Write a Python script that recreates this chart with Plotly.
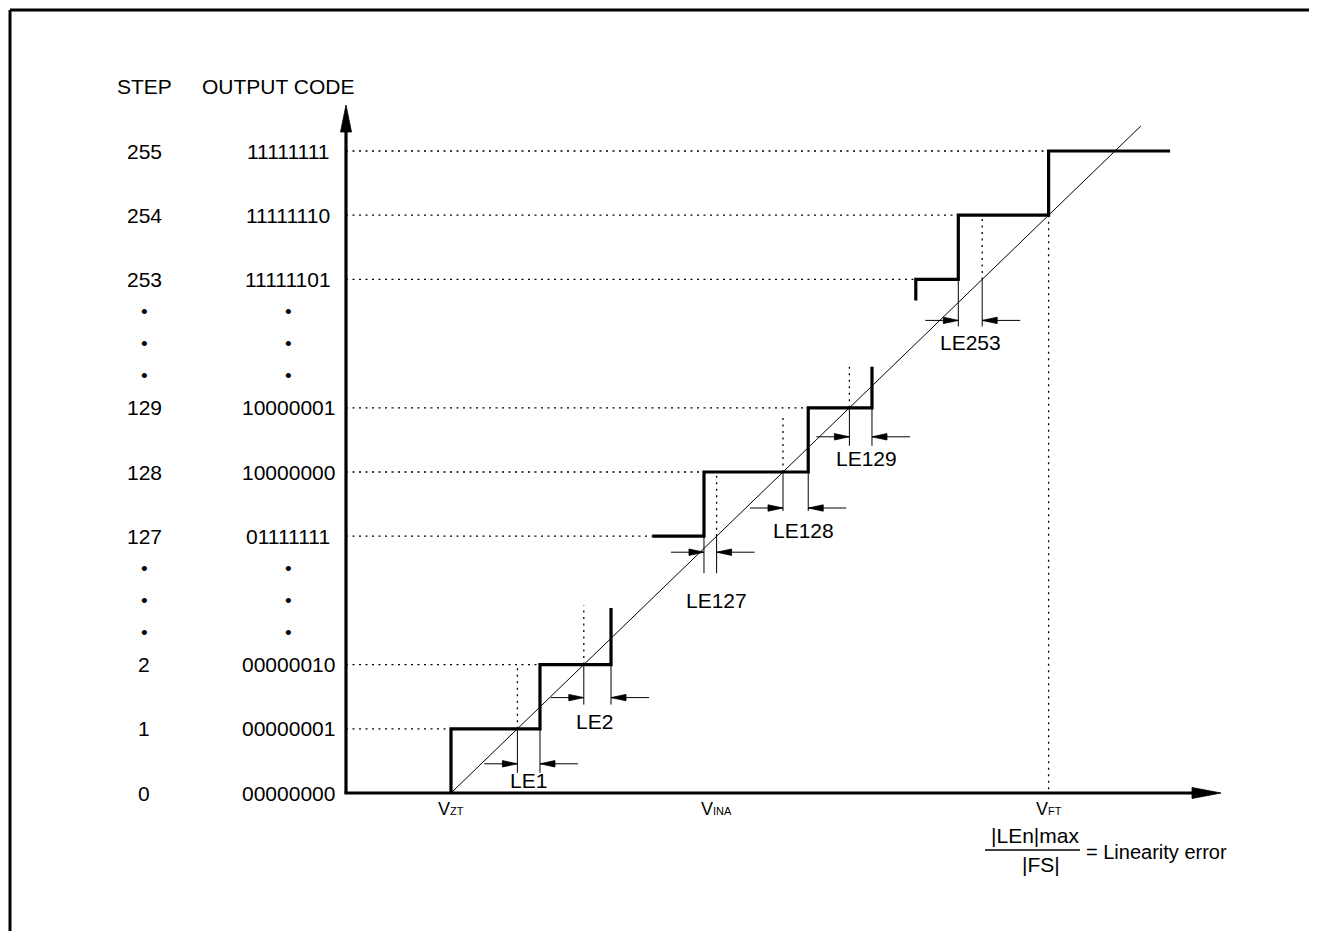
import plotly.graph_objects as go

# ---------------- data ----------------
step_labels = ["0", "1", "2", "127", "128", "129", "253", "254", "255"]
code_labels = ["00000000", "00000001", "00000010", "01111111", "10000000",
               "10000001", "11111101", "11111110", "11111111"]
level_rows = [0, 1, 2, 4, 5, 6, 8, 9, 10]          # vertical slot of each listed code
ellipsis_rows = [2.5, 3, 3.5, 6.5, 7, 7.5]

# actual conversion characteristic (input in LSB measured from V_ZT)
low_start = (0.00, 0.00)
low_trans = [0.00, 1.34, 2.41]
low_rows = [1, 2, 2.88]
mid_start = (3.03, 4.00)
mid_trans = [3.81, 5.38, 6.34]
mid_rows = [5, 6, 6.64]
high_start = (7.00, 7.67)
high_trans = [7.00, 7.64, 9.00]
high_rows = [8, 9, 10]
high_end = 10.83
ideal_end = 10.39

# ideal-crossing reference marks (x = row) and how far each dotted mark reaches
ideal_rows = [1, 2, 4, 5, 6, 8, 9]
ideal_tops = [2, 2.92, 5, 5.84, 6.67, 9, 0]

# linearity-error markers
le_names = ["LE1", "LE2", "LE127", "LE128", "LE129", "LE253"]
le_rows = [1, 2, 4, 5, 6, 8]
le_actual = [1.34, 2.41, 3.81, 5.38, 6.34, 7.64]

# ---------------- layout helpers (pixel geometry) ----------------
OFF = 8                      # page body margin
W, H = 1309, 923
X0_PX, UX = 451.0, 66.4      # page x of V_ZT, px per LSB
Y0_PX, UY = 793.0, 64.2      # page y of code 0, px per row
AXIS_X = (346 - X0_PX) / UX

def px_x(px):
    return (px - X0_PX) / UX

def px_y(py):
    return (Y0_PX - py) / UY

le_arrow_dy = [35, 33, 16, 36, 29, 41]
le_drop = [44, 40, 37, 39, 38, 47]
le_label_dy = [52, 57, 64, 58, 51, 63]
le_label_dx = [0, -3, 6, 8, 6, 0]

FONT = "Liberation Sans, Arial, Helvetica, sans-serif"
FS = 21
BLACK = "#000000"

fig = go.Figure()

def add_line(xs, ys, width=1.0, dash=None, color=BLACK):
    fig.add_trace(go.Scatter(x=xs, y=ys, mode="lines",
                             line=dict(color=color, width=width, dash=dash),
                             hoverinfo="skip", showlegend=False))

def staircase(start, trans, rows):
    xs, ys = [start[0]], [start[1]]
    cur = start[1]
    for t, r in zip(trans, rows):
        xs += [t, t]
        ys += [cur, r]
        cur = r
    return xs, ys

tri_x, tri_y = [], []

def arrowhead(tip_x, tip_y, direction, length_px, half_px):
    if direction == "r":
        pts = [(tip_x, tip_y), (tip_x - length_px / UX, tip_y + half_px / UY),
               (tip_x - length_px / UX, tip_y - half_px / UY)]
    elif direction == "l":
        pts = [(tip_x, tip_y), (tip_x + length_px / UX, tip_y + half_px / UY),
               (tip_x + length_px / UX, tip_y - half_px / UY)]
    else:
        pts = [(tip_x, tip_y), (tip_x - half_px / UX, tip_y - length_px / UY),
               (tip_x + half_px / UX, tip_y - length_px / UY)]
    for px_, py_ in pts + [pts[0]]:
        tri_x.append(px_)
        tri_y.append(py_)
    tri_x.append(None)
    tri_y.append(None)

# staircase segments
segs = [staircase(low_start, low_trans, low_rows),
        staircase(mid_start, mid_trans, mid_rows),
        staircase(high_start, high_trans, high_rows)]
segs[2][0].append(high_end)
segs[2][1].append(high_rows[-1])

# dotted horizontal guides: from y axis to where the staircase first reaches the level
hx, hy = [], []
for r in level_rows[1:]:
    start_x = None
    for xs, ys in segs:
        for x, y in zip(xs, ys):
            if abs(y - r) < 1e-9:
                start_x = x
                break
        if start_x is not None:
            break
    hx += [AXIS_X, start_x, None]
    hy += [r, r, None]
add_line(hx, hy, width=1.3, dash="2px,4.5px")

# dotted verticals at ideal crossings
vx, vy = [], []
for r, top in zip(ideal_rows, ideal_tops):
    vx += [r, r, None]
    vy += [r, top, None]
add_line(vx, vy, width=1.3, dash="2px,4.5px")

# ideal straight line
add_line([0, ideal_end], [0, ideal_end], width=1.0)

# staircase
for xs, ys in segs:
    add_line(xs, ys, width=3.2)

# LE markers
mx, my = [], []
for i, (name, r, act) in enumerate(zip(le_names, le_rows, le_actual)):
    lo, hi = min(r, act), max(r, act)
    yb = r - le_drop[i] / UY
    mx += [lo, lo, None, hi, hi, None]
    my += [r, yb, None, r, yb, None]
    ya = r - le_arrow_dy[i] / UY
    mx += [lo - 33 / UX, lo, None, hi + 38 / UX, hi, None]
    my += [ya, ya, None, ya, ya, None]
    arrowhead(lo, ya, "r", 15, 3.2)
    arrowhead(hi, ya, "l", 15, 3.2)
    fig.add_annotation(x=(lo + hi) / 2 + le_label_dx[i] / UX, y=r - le_label_dy[i] / UY,
                       text=name, showarrow=False, xanchor="center", yanchor="middle",
                       font=dict(family=FONT, size=FS, color=BLACK))
add_line(mx, my, width=1.0)

# axes
y_tip = px_y(105)
x_tip = px_x(1221)
add_line([AXIS_X, AXIS_X], [0, y_tip - 20 / UY], width=3.2)
add_line([AXIS_X - 1.6 / UX, x_tip - 20 / UX], [0, 0], width=3.2)
arrowhead(AXIS_X, y_tip, "u", 27, 5.5)
arrowhead(x_tip, 0, "r", 29, 5.5)

fig.add_trace(go.Scatter(x=tri_x, y=tri_y, mode="lines", fill="toself",
                         fillcolor=BLACK, line=dict(color=BLACK, width=0.8),
                         hoverinfo="skip", showlegend=False))

# row labels
col_step = px_x(144)
col_code = px_x(288)
for s, c, r in zip(step_labels, code_labels, level_rows):
    fig.add_annotation(x=col_step, y=r, text=s, showarrow=False, xanchor="center",
                       yanchor="middle", font=dict(family=FONT, size=FS, color=BLACK))
    fig.add_annotation(x=col_code, y=r, text=c, showarrow=False, xanchor="center",
                       yanchor="middle", font=dict(family=FONT, size=FS, color=BLACK))
for r in ellipsis_rows:
    for cx in (col_step, col_code):
        fig.add_annotation(x=cx, y=r, text="•", showarrow=False, xanchor="center",
                           yanchor="middle", font=dict(family=FONT, size=19, color=BLACK))

fig.add_annotation(x=col_step, y=px_y(86), text="STEP", showarrow=False,
                   xanchor="center", yanchor="middle",
                   font=dict(family=FONT, size=FS, color=BLACK))
fig.add_annotation(x=px_x(278), y=px_y(86), text="OUTPUT CODE", showarrow=False,
                   xanchor="center", yanchor="middle",
                   font=dict(family=FONT, size=FS, color=BLACK))

# voltage labels
sub = "<span style='font-size:11px'>{}</span>"
v_labels = ["V" + sub.format("ZT"), "V" + sub.format("INA"), "V" + sub.format("FT")]
v_pos = [0, 4, 9]
for t, p in zip(v_labels, v_pos):
    fig.add_annotation(x=p, y=px_y(809), text=t, showarrow=False, xanchor="center",
                       yanchor="middle", font=dict(family=FONT, size=18, color=BLACK))

# formula
fig.add_annotation(x=px_x(1035), y=px_y(835), text="|LEn|max", showarrow=False,
                   xanchor="center", yanchor="middle",
                   font=dict(family=FONT, size=FS, color=BLACK))
fig.add_annotation(x=px_x(1041), y=px_y(864), text="|FS|", showarrow=False,
                   xanchor="center", yanchor="middle",
                   font=dict(family=FONT, size=FS, color=BLACK))
add_line([px_x(985), px_x(1080)], [px_y(850), px_y(850)], width=1.5)
fig.add_annotation(x=px_x(1084), y=px_y(852), text="= Linearity error", showarrow=False,
                   xanchor="left", yanchor="middle",
                   font=dict(family=FONT, size=20, color=BLACK))

# outer frame (top and left edges)
bx = (10 - OFF) / W
by = 1 - (10 - OFF) / H
fig.add_shape(type="line", xref="paper", yref="paper", x0=bx, y0=0, x1=bx, y1=by,
              line=dict(color=BLACK, width=3))
fig.add_shape(type="line", xref="paper", yref="paper", x0=bx, y0=by, x1=1, y1=by,
              line=dict(color=BLACK, width=3))

fig.update_layout(
    width=W, height=H, autosize=False,
    margin=dict(l=0, r=0, t=0, b=0),
    paper_bgcolor="white", plot_bgcolor="white",
    showlegend=False,
    xaxis=dict(visible=False, range=[(OFF - X0_PX) / UX, (OFF + W - X0_PX) / UX], fixedrange=True),
    yaxis=dict(visible=False, range=[(Y0_PX - OFF - H) / UY, (Y0_PX - OFF) / UY], fixedrange=True),
)

fig.write_html("out.html", config={"displayModeBar": False})
